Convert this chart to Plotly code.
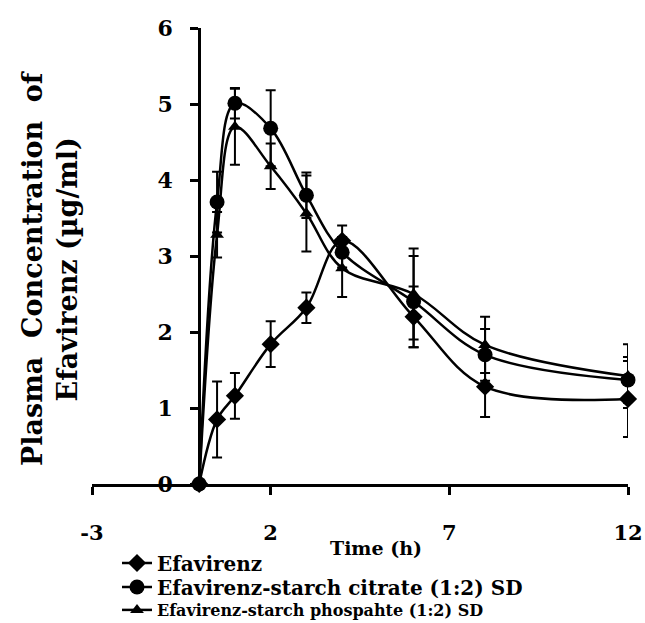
import plotly.graph_objects as go

# ---- data ----
time_h = [0, 0.5, 1, 2, 3, 4, 6, 8, 12]

efavirenz = [0, 0.85, 1.16, 1.84, 2.32, 3.2, 2.2, 1.28, 1.12]
efavirenz_err = [0, 0.5, 0.3, 0.3, 0.2, 0.2, 0.4, 0.4, 0.5]

citrate = [0, 3.71, 5.01, 4.68, 3.8, 3.05, 2.4, 1.7, 1.37]
citrate_err = [0, 0.4, 0.2, 0.5, 0.3, 0.2, 0.6, 0.34, 0.3]

phosphate = [0, 3.28, 4.7, 4.18, 3.56, 2.84, 2.5, 1.83, 1.42]
phosphate_err = [0, 0.3, 0.5, 0.3, 0.5, 0.38, 0.6, 0.37, 0.42]

series_names = [
    "Efavirenz",
    "Efavirenz-starch citrate (1:2) SD",
    "Efavirenz-starch phospahte (1:2) SD",
]

x_ticks = [-3, 2, 7, 12]
y_ticks = [0, 1, 2, 3, 4, 5, 6]

FONT = "DejaVu Serif"

# plot area in pixels
L, R, T, B = 92, 17, 28, 139
W, H = 645, 623
PW, PH = W - L - R, H - T - B


def py(pix):
    return (H - B - pix) / PH


def px(pix):
    return (pix - L) / PW


fig = go.Figure()

specs = [
    (efavirenz, efavirenz_err, "diamond", 14, series_names[0], "legend"),
    (citrate, citrate_err, "circle", 15, series_names[1], "legend2"),
    (phosphate, phosphate_err, "triangle-up", 12, series_names[2], "legend3"),
]
for vals, errs, sym, size, name, leg in specs:
    fig.add_trace(go.Scatter(
        x=time_h, y=vals, name=name, mode="lines+markers",
        line=dict(color="black", width=2.5, shape="spline"),
        marker=dict(symbol=sym, size=size, color="black"),
        error_y=dict(type="data", array=errs, visible=True,
                     color="black", thickness=2, width=5),
        cliponaxis=False, legend=leg,
    ))


def leg(ycenter, size):
    return dict(
        x=px(117), xanchor="left", y=py(ycenter), yanchor="middle",
        font=dict(family=FONT, size=size, color="black", weight="bold"),
        bgcolor="rgba(0,0,0,0)", borderwidth=0,
    )


fig.update_layout(
    width=W, height=H,
    margin=dict(l=L, r=R, t=T, b=B, autoexpand=False),
    paper_bgcolor="white", plot_bgcolor="white",
    font=dict(family=FONT, color="black"),
    showlegend=True,
    legend=leg(563, 20),
    legend2=leg(587, 20),
    legend3=leg(610, 16),
    xaxis=dict(
        range=[-3, 12], tickvals=x_ticks, ticktext=[str(v) for v in x_ticks],
        showgrid=False, zeroline=False, showline=True, linecolor="black",
        linewidth=3, ticks="outside", ticklen=8, tickwidth=3,
        tickcolor="black",
        tickfont=dict(family=FONT, size=21, color="black", weight="bold"),
        ticklabelstandoff=20,
        anchor="y",
    ),
    yaxis=dict(
        range=[0, 6], tickvals=y_ticks, ticktext=[str(v) for v in y_ticks],
        showgrid=False, zeroline=False, showline=True, linecolor="black",
        linewidth=3, ticks="outside", ticklen=8, tickwidth=3,
        tickcolor="black",
        tickfont=dict(family=FONT, size=22, color="black", weight="bold"),
        ticklabelstandoff=13,
        anchor="free", position=0.2,
    ),
)

fig.add_annotation(
    text="Time (h)", xref="paper", yref="paper",
    x=px(376), y=py(548),
    xanchor="center", yanchor="middle", showarrow=False,
    font=dict(family=FONT, size=19, color="black", weight="bold"),
)
fig.add_annotation(
    text="Plasma  Concentration  of<br>Efavirenz (µg/ml)",
    xref="paper", yref="paper",
    x=px(50), y=py(268),
    xanchor="center", yanchor="middle", showarrow=False, textangle=-90,
    font=dict(family=FONT, size=27, color="black", weight="bold"),
)

fig.write_html(
    "out.html",
    config={"displayModeBar": False},
    post_script="document.body.style.margin='0';",
)
